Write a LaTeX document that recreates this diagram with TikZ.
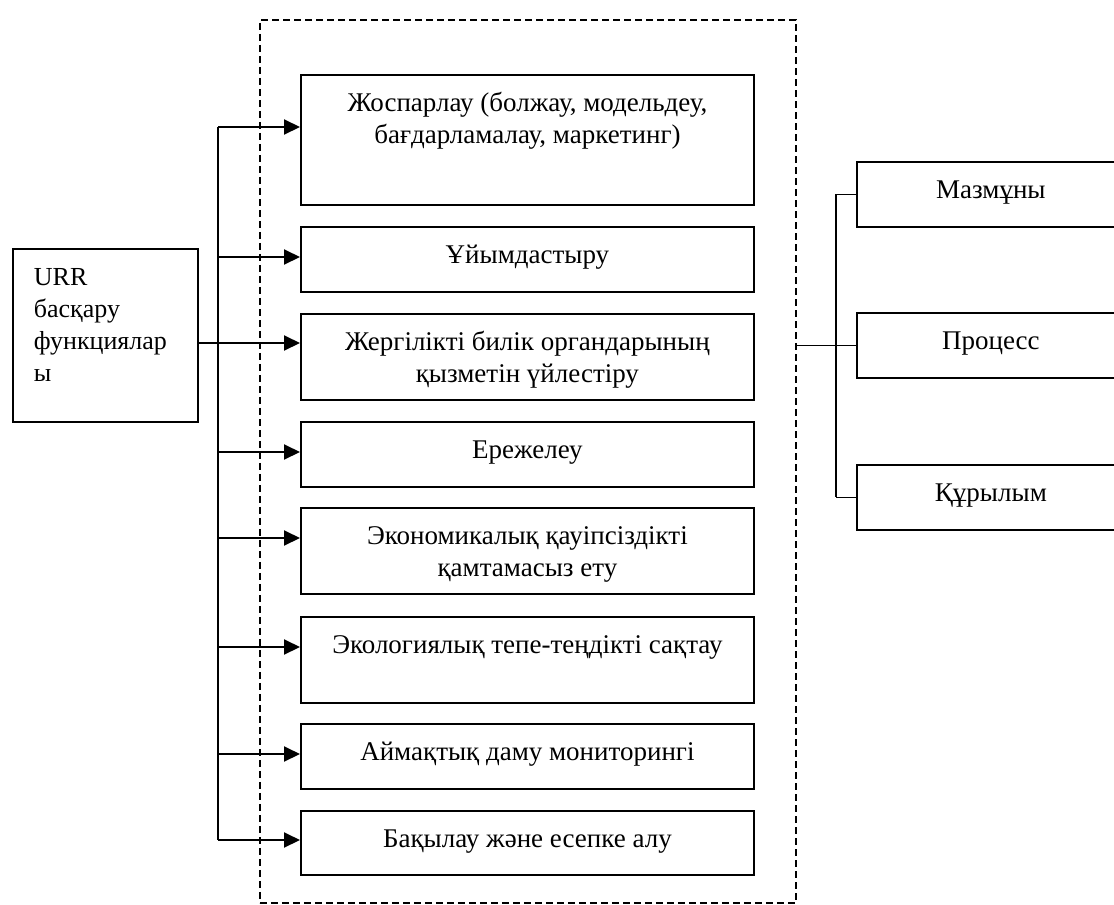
\documentclass[tikz,border=0pt]{standalone}
\usepackage{fontspec}
\setmainfont{Liberation Serif}
\usetikzlibrary{arrows.meta}
\newcommand\bxt[3]{\parbox[t][#2][t]{#1}{\centering\rule{0pt}{18.3pt}#3}}
\tikzset{
  txt/.style={font=\fontsize{13.5}{16}\selectfont},
  mbox/.style={txt, draw, line width=0.9pt, inner sep=0pt, anchor=north west},
  grp/.style={draw, line width=0.8pt, dash pattern=on 3.5pt off 2pt, inner sep=0pt, anchor=north west},
  arr/.style={line width=1pt, -{Triangle[length=8pt,width=7.5pt]}},
  busline/.style={line width=1pt},
  thinline/.style={line width=0.7pt},
  rline/.style={line width=0.85pt},
}
\begin{document}
\begin{tikzpicture}[x=0.5pt,y=-0.5pt]
\useasboundingbox (0,0) rectangle (1114,905);
% dashed group
\node[grp, minimum width=268pt, minimum height=441.5pt] (grp) at (259,19) {};
% left box
\node[mbox, font=\fontsize{13}{16}\selectfont] (urr) at (12,248) {\parbox[t][86.5pt][t]{92.5pt}{\raggedright\leftskip=10.5pt\rule{0pt}{18.2pt}URR\\ басқару\\ функциялар\\ ы}};
% main boxes
\node[mbox] (b1) at (300,74)  {\bxt{226.5pt}{65pt}{Жоспарлау (болжау, модельдеу,\\ бағдарламалау, маркетинг)}};
\node[mbox] (b2) at (300,226) {\bxt{226.5pt}{32.5pt}{Ұйымдастыру}};
\node[mbox] (b3) at (300,313) {\bxt{226.5pt}{43pt}{Жергілікті билік органдарының\\ қызметін үйлестіру}};
\node[mbox] (b4) at (300,421) {\bxt{226.5pt}{32.5pt}{Ережелеу}};
\node[mbox] (b5) at (300,507) {\bxt{226.5pt}{43pt}{Экономикалық қауіпсіздікті\\ қамтамасыз ету}};
\node[mbox] (b6) at (300,616) {\bxt{226.5pt}{43pt}{Экологиялық тепе-теңдікті сақтау}};
\node[mbox] (b7) at (300,723) {\bxt{226.5pt}{32.5pt}{Аймақтық даму мониторингі}};
\node[mbox] (b8) at (300,810) {\bxt{226.5pt}{32pt}{Бақылау және есепке алу}};
% right boxes
\node[mbox] (r1) at (856,161) {\bxt{134pt}{32.5pt}{Мазмұны}};
\node[mbox] (r2) at (856,312) {\bxt{134pt}{32.5pt}{Процесс}};
\node[mbox] (r3) at (856,464) {\bxt{134pt}{32.5pt}{Құрылым}};
% arrow targets
\coordinate (bus) at (218,0);
\coordinate (a1) at ([yshift=-26.5pt]b1.north west);
\coordinate (a2) at ([yshift=-15.5pt]b2.north west);
\coordinate (a3) at ([yshift=-15pt]b3.north west);
\coordinate (a4) at ([yshift=-15.5pt]b4.north west);
\coordinate (a5) at ([yshift=-15.5pt]b5.north west);
\coordinate (a6) at ([yshift=-15.5pt]b6.north west);
\coordinate (a7) at ([yshift=-15.5pt]b7.north west);
\coordinate (a8) at ([yshift=-15pt]b8.north west);
\draw[busline] (bus |- a1) -- (bus |- a8);
\draw[thinline] (urr.east |- a3) -- (bus |- a3);
\foreach \i in {1,...,8} { \draw[arr] (bus |- a\i) -- (a\i); }
% right connectors
\coordinate (rbus) at (836,0);
\draw[rline] (grp.east |- r2.west) -- (r2.west);
\draw[rline] (rbus |- r1.west) -- (rbus |- r3.west);
\draw[rline] (rbus |- r1.west) -- (r1.west);
\draw[rline] (rbus |- r3.west) -- (r3.west);
\end{tikzpicture}
\end{document}
